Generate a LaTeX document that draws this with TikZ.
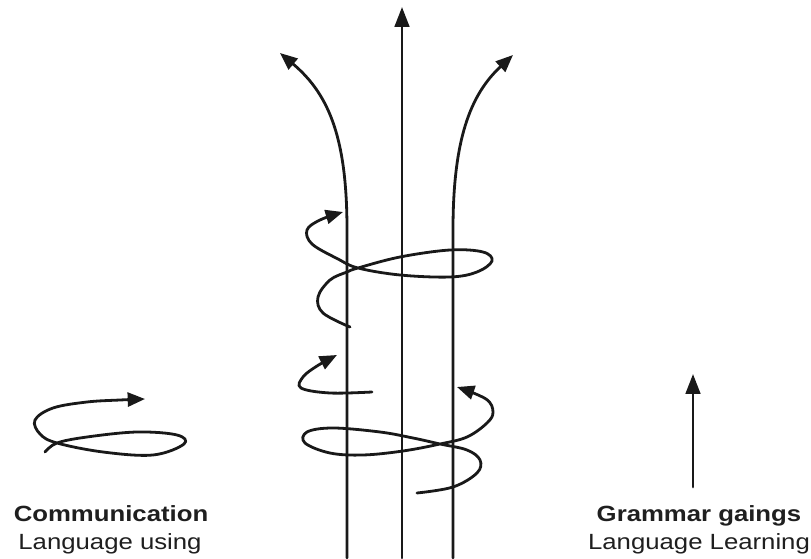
\documentclass[tikz,border=0pt]{standalone}
\usepackage{fontspec}
\setmainfont[FakeStretch=1.17]{Liberation Sans}
\usetikzlibrary{arrows.meta}
\begin{document}
\begin{tikzpicture}[x=0.75pt,y=-0.75pt,
  stroke/.style={line width=2.1pt,line cap=round,line join=round,black!90},
  bigtip/.style={-{Triangle[length=15pt,width=11pt]}},
  smalltip/.style={-{Triangle[length=13pt,width=10.5pt]}},
  coil/.style={stroke,smooth,tension=0.6},
  caption/.style={anchor=base,inner sep=0pt,text=black!88,font=\fontsize{16.5}{20}\selectfont}]
\useasboundingbox (0,0) rectangle (811,559);

% named points
\coordinate (lb) at (347,558);
\coordinate (lm) at (347,230);
\coordinate (lt) at (280,53);
\coordinate (cb) at (402,558);
\coordinate (ct) at (402,7);
\coordinate (rb) at (453,558);
\coordinate (rm) at (453,230);
\coordinate (rt) at (513,55);
\coordinate (gb) at (693,487);
\coordinate (gt) at (693,374);

% three main strands
\draw[stroke,bigtip] (cb) -- (ct);
\draw[stroke,smalltip] (lb) -- (lm) .. controls (347,140) and (330,95) .. (lt);
\draw[stroke,smalltip] (rb) -- (rm) .. controls (453,140) and (470,95) .. (rt);

% upper coil
\draw[coil,smalltip] plot coordinates {(350,327) (323,313) (318,297) (330,280) (347,272) (358,268) (400,257) (450,250) (483,252) (492,261) (477,272) (450,277) (400,275) (358,268) (338,259) (312,244) (307,230) (320,220) (343,212)};

% small hook
\draw[coil,smalltip] plot coordinates {(372,392) (330,393) (301,388) (303,377) (317,366) (337,355)};

% lower coil
\draw[coil,smalltip] plot coordinates {(417,493) (453,487) (477,473) (480,460) (467,450) (440,444) (413,438) (380,432) (333,428) (307,432) (305,443) (330,453) (363,455) (403,451) (440,444) (467,437) (487,423) (493,412) (486,399) (457,387)};

% communication coil
\draw[coil,smalltip] plot coordinates {(45,452) (57,443) (87,437) (137,432) (177,435) (184,444) (153,455) (103,452) (57,443) (40,434) (35,420) (53,408) (87,402) (120,400) (145,399)};

% grammar arrow
\draw[stroke,bigtip] (gb) -- (gt);

% captions
\node[caption] (comm) at (111,522) {\bfseries Communication};
\node[caption] (use) at (110,550) {Language using};
\node[caption] (gram) at (699,522) {\bfseries Grammar gaings};
\node[caption] (learn) at (699,550) {Language Learning};
\end{tikzpicture}
\end{document}
